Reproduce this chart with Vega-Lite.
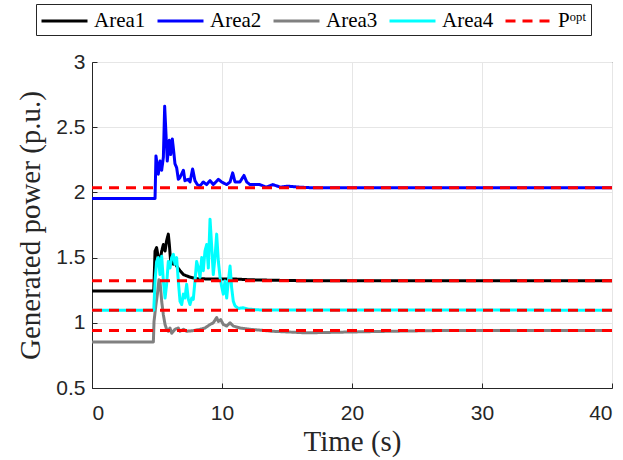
{
  "$schema": "https://vega.github.io/schema/vega-lite/v6.json",
  "width": 520,
  "height": 326,
  "autosize": "none",
  "padding": {"left": 92, "top": 62, "right": 11, "bottom": 72},
  "background": "white",
  "config": {
    "view": {"stroke": "#262626", "strokeWidth": 1},
    "axis": {
      "domainColor": "#262626",
      "tickColor": "#262626",
      "gridColor": "#e6e6e6",
      "labelFont": "Liberation Sans",
      "labelFontSize": 21,
      "labelColor": "#262626",
      "titleFont": "Liberation Serif",
      "titleFontSize": 29,
      "titleFontWeight": "normal",
      "titleColor": "#262626",
      "tickSize": -5,
      "labelPadding": 14
    },
    "legend": {
      "orient": "none",
      "legendX": -56,
      "legendY": -58,
      "direction": "horizontal",
      "strokeColor": "#262626",
      "fillColor": "white",
      "padding": 4,
      "labelFont": "Liberation Serif",
      "labelFontSize": 21,
      "labelColor": "black",
      "symbolType": "M-1,0H3",
      "symbolSize": 529,
      "symbolStrokeWidth": 3,
      "columnPadding": 5,
      "labelOffset": 28
    }
  },
  "datasets": {
    "areas": [
      {"series": "Area1", "t": 0, "v": 1.243},
      {"series": "Area1", "t": 4.75, "v": 1.243},
      {"series": "Area1", "t": 4.85, "v": 1.55},
      {"series": "Area1", "t": 4.97, "v": 1.577},
      {"series": "Area1", "t": 5.10, "v": 1.50},
      {"series": "Area1", "t": 5.23, "v": 1.47},
      {"series": "Area1", "t": 5.36, "v": 1.55},
      {"series": "Area1", "t": 5.49, "v": 1.60},
      {"series": "Area1", "t": 5.62, "v": 1.55},
      {"series": "Area1", "t": 5.74, "v": 1.63},
      {"series": "Area1", "t": 5.87, "v": 1.68},
      {"series": "Area1", "t": 5.95, "v": 1.60},
      {"series": "Area1", "t": 6.05, "v": 1.47},
      {"series": "Area1", "t": 6.15, "v": 1.50},
      {"series": "Area1", "t": 6.26, "v": 1.45},
      {"series": "Area1", "t": 6.40, "v": 1.46},
      {"series": "Area1", "t": 6.51, "v": 1.435},
      {"series": "Area1", "t": 6.77, "v": 1.40},
      {"series": "Area1", "t": 7.03, "v": 1.37},
      {"series": "Area1", "t": 7.28, "v": 1.36},
      {"series": "Area1", "t": 7.54, "v": 1.35},
      {"series": "Area1", "t": 8.05, "v": 1.338},
      {"series": "Area1", "t": 9.6, "v": 1.335},
      {"series": "Area1", "t": 11.1, "v": 1.335},
      {"series": "Area1", "t": 12.15, "v": 1.33},
      {"series": "Area1", "t": 14, "v": 1.326},
      {"series": "Area1", "t": 16, "v": 1.323},
      {"series": "Area1", "t": 40, "v": 1.323},

      {"series": "Area2", "t": 0, "v": 1.954},
      {"series": "Area2", "t": 4.85, "v": 1.954},
      {"series": "Area2", "t": 4.92, "v": 2.28},
      {"series": "Area2", "t": 5.10, "v": 2.14},
      {"series": "Area2", "t": 5.23, "v": 2.24},
      {"series": "Area2", "t": 5.36, "v": 2.17},
      {"series": "Area2", "t": 5.49, "v": 2.27},
      {"series": "Area2", "t": 5.59, "v": 2.66},
      {"series": "Area2", "t": 5.69, "v": 2.45},
      {"series": "Area2", "t": 5.79, "v": 2.24},
      {"series": "Area2", "t": 5.95, "v": 2.40},
      {"series": "Area2", "t": 6.05, "v": 2.29},
      {"series": "Area2", "t": 6.18, "v": 2.41},
      {"series": "Area2", "t": 6.31, "v": 2.29},
      {"series": "Area2", "t": 6.38, "v": 2.22},
      {"series": "Area2", "t": 6.51, "v": 2.19},
      {"series": "Area2", "t": 6.64, "v": 2.10},
      {"series": "Area2", "t": 6.77, "v": 2.115},
      {"series": "Area2", "t": 7.03, "v": 2.17},
      {"series": "Area2", "t": 7.15, "v": 2.09},
      {"series": "Area2", "t": 7.41, "v": 2.10},
      {"series": "Area2", "t": 7.54, "v": 2.08},
      {"series": "Area2", "t": 7.74, "v": 2.18},
      {"series": "Area2", "t": 7.92, "v": 2.09},
      {"series": "Area2", "t": 8.10, "v": 2.06},
      {"series": "Area2", "t": 8.31, "v": 2.05},
      {"series": "Area2", "t": 8.56, "v": 2.08},
      {"series": "Area2", "t": 8.82, "v": 2.06},
      {"series": "Area2", "t": 9.08, "v": 2.09},
      {"series": "Area2", "t": 9.33, "v": 2.06},
      {"series": "Area2", "t": 9.72, "v": 2.10},
      {"series": "Area2", "t": 9.97, "v": 2.08},
      {"series": "Area2", "t": 10.36, "v": 2.06},
      {"series": "Area2", "t": 10.62, "v": 2.08},
      {"series": "Area2", "t": 10.82, "v": 2.15},
      {"series": "Area2", "t": 11.0, "v": 2.08},
      {"series": "Area2", "t": 11.38, "v": 2.08},
      {"series": "Area2", "t": 11.69, "v": 2.13},
      {"series": "Area2", "t": 11.9, "v": 2.08},
      {"series": "Area2", "t": 12.15, "v": 2.06},
      {"series": "Area2", "t": 12.9, "v": 2.06},
      {"series": "Area2", "t": 13.4, "v": 2.04},
      {"series": "Area2", "t": 13.9, "v": 2.06},
      {"series": "Area2", "t": 14.5, "v": 2.04},
      {"series": "Area2", "t": 15.0, "v": 2.048},
      {"series": "Area2", "t": 16.0, "v": 2.04},
      {"series": "Area2", "t": 17.0, "v": 2.035},
      {"series": "Area2", "t": 40, "v": 2.035},

      {"series": "Area3", "t": 0, "v": 0.853},
      {"series": "Area3", "t": 4.72, "v": 0.853},
      {"series": "Area3", "t": 4.77, "v": 1.01},
      {"series": "Area3", "t": 4.92, "v": 1.14},
      {"series": "Area3", "t": 5.03, "v": 1.22},
      {"series": "Area3", "t": 5.15, "v": 1.33},
      {"series": "Area3", "t": 5.23, "v": 1.32},
      {"series": "Area3", "t": 5.36, "v": 1.165},
      {"series": "Area3", "t": 5.49, "v": 1.06},
      {"series": "Area3", "t": 5.62, "v": 0.987},
      {"series": "Area3", "t": 5.74, "v": 0.95},
      {"series": "Area3", "t": 5.87, "v": 0.935},
      {"series": "Area3", "t": 6.0, "v": 0.96},
      {"series": "Area3", "t": 6.13, "v": 0.92},
      {"series": "Area3", "t": 6.38, "v": 0.95},
      {"series": "Area3", "t": 6.64, "v": 0.96},
      {"series": "Area3", "t": 6.77, "v": 0.935},
      {"series": "Area3", "t": 7.03, "v": 0.95},
      {"series": "Area3", "t": 7.28, "v": 0.935},
      {"series": "Area3", "t": 7.79, "v": 0.94},
      {"series": "Area3", "t": 8.31, "v": 0.95},
      {"series": "Area3", "t": 8.69, "v": 0.96},
      {"series": "Area3", "t": 9.08, "v": 0.987},
      {"series": "Area3", "t": 9.33, "v": 1.0},
      {"series": "Area3", "t": 9.59, "v": 1.04},
      {"series": "Area3", "t": 9.72, "v": 1.01},
      {"series": "Area3", "t": 9.9, "v": 1.025},
      {"series": "Area3", "t": 10.1, "v": 0.987},
      {"series": "Area3", "t": 10.36, "v": 0.975},
      {"series": "Area3", "t": 10.62, "v": 1.0},
      {"series": "Area3", "t": 10.87, "v": 0.975},
      {"series": "Area3", "t": 11.38, "v": 0.96},
      {"series": "Area3", "t": 12.15, "v": 0.95},
      {"series": "Area3", "t": 13.9, "v": 0.935},
      {"series": "Area3", "t": 16.5, "v": 0.923},
      {"series": "Area3", "t": 19.1, "v": 0.928},
      {"series": "Area3", "t": 22.9, "v": 0.935},
      {"series": "Area3", "t": 27, "v": 0.941},
      {"series": "Area3", "t": 40, "v": 0.941},

      {"series": "Area4", "t": 0, "v": 1.097},
      {"series": "Area4", "t": 4.75, "v": 1.097},
      {"series": "Area4", "t": 4.85, "v": 1.32},
      {"series": "Area4", "t": 4.97, "v": 1.47},
      {"series": "Area4", "t": 5.10, "v": 1.50},
      {"series": "Area4", "t": 5.23, "v": 1.37},
      {"series": "Area4", "t": 5.36, "v": 1.51},
      {"series": "Area4", "t": 5.49, "v": 1.32},
      {"series": "Area4", "t": 5.62, "v": 1.19},
      {"series": "Area4", "t": 5.74, "v": 1.295},
      {"series": "Area4", "t": 5.87, "v": 1.47},
      {"series": "Area4", "t": 6.0, "v": 1.42},
      {"series": "Area4", "t": 6.13, "v": 1.50},
      {"series": "Area4", "t": 6.26, "v": 1.525},
      {"series": "Area4", "t": 6.38, "v": 1.45},
      {"series": "Area4", "t": 6.51, "v": 1.50},
      {"series": "Area4", "t": 6.64, "v": 1.32},
      {"series": "Area4", "t": 6.77, "v": 1.165},
      {"series": "Area4", "t": 6.90, "v": 1.14},
      {"series": "Area4", "t": 7.03, "v": 1.22},
      {"series": "Area4", "t": 7.15, "v": 1.19},
      {"series": "Area4", "t": 7.28, "v": 1.295},
      {"series": "Area4", "t": 7.41, "v": 1.18},
      {"series": "Area4", "t": 7.54, "v": 1.14},
      {"series": "Area4", "t": 7.67, "v": 1.19},
      {"series": "Area4", "t": 7.79, "v": 1.18},
      {"series": "Area4", "t": 7.92, "v": 1.32},
      {"series": "Area4", "t": 8.05, "v": 1.47},
      {"series": "Area4", "t": 8.18, "v": 1.42},
      {"series": "Area4", "t": 8.31, "v": 1.35},
      {"series": "Area4", "t": 8.44, "v": 1.50},
      {"series": "Area4", "t": 8.56, "v": 1.40},
      {"series": "Area4", "t": 8.69, "v": 1.55},
      {"series": "Area4", "t": 8.82, "v": 1.60},
      {"series": "Area4", "t": 8.95, "v": 1.42},
      {"series": "Area4", "t": 9.08, "v": 1.795},
      {"series": "Area4", "t": 9.21, "v": 1.58},
      {"series": "Area4", "t": 9.33, "v": 1.37},
      {"series": "Area4", "t": 9.46, "v": 1.50},
      {"series": "Area4", "t": 9.59, "v": 1.68},
      {"series": "Area4", "t": 9.72, "v": 1.47},
      {"series": "Area4", "t": 9.85, "v": 1.35},
      {"series": "Area4", "t": 9.97, "v": 1.28},
      {"series": "Area4", "t": 10.1, "v": 1.22},
      {"series": "Area4", "t": 10.23, "v": 1.32},
      {"series": "Area4", "t": 10.36, "v": 1.19},
      {"series": "Area4", "t": 10.49, "v": 1.32},
      {"series": "Area4", "t": 10.62, "v": 1.435},
      {"series": "Area4", "t": 10.74, "v": 1.27},
      {"series": "Area4", "t": 10.87, "v": 1.165},
      {"series": "Area4", "t": 11.0, "v": 1.13},
      {"series": "Area4", "t": 11.26, "v": 1.11},
      {"series": "Area4", "t": 11.6, "v": 1.115},
      {"series": "Area4", "t": 12.0, "v": 1.105},
      {"series": "Area4", "t": 13.0, "v": 1.098},
      {"series": "Area4", "t": 40, "v": 1.097}
    ],
    "popt": [
      {"series": "Pᵒᵖᵗ", "line": "P1", "t": 0, "v": 1.323},
      {"series": "Pᵒᵖᵗ", "line": "P1", "t": 40, "v": 1.323},
      {"series": "Pᵒᵖᵗ", "line": "P2", "t": 0, "v": 2.035},
      {"series": "Pᵒᵖᵗ", "line": "P2", "t": 40, "v": 2.035},
      {"series": "Pᵒᵖᵗ", "line": "P3", "t": 0, "v": 0.941},
      {"series": "Pᵒᵖᵗ", "line": "P3", "t": 40, "v": 0.941},
      {"series": "Pᵒᵖᵗ", "line": "P4", "t": 0, "v": 1.097},
      {"series": "Pᵒᵖᵗ", "line": "P4", "t": 40, "v": 1.097}
    ]
  },
  "encoding": {
    "x": {
      "field": "t",
      "type": "quantitative",
      "scale": {"domain": [0, 40], "nice": false},
      "axis": {"title": "Time (s)", "values": [0, 10, 20, 30, 40], "grid": true, "labelPadding": 19, "titlePadding": 4}
    },
    "y": {
      "field": "v",
      "type": "quantitative",
      "scale": {"domain": [0.5, 3], "nice": false, "zero": false},
      "axis": {"title": "Generated power (p.u.)", "values": [0.5, 1, 1.5, 2, 2.5, 3], "format": "~g", "grid": true, "labelPadding": 12, "titlePadding": 10}
    },
    "color": {
      "field": "series",
      "type": "nominal",
      "scale": {
        "domain": ["Area1", "Area2", "Area3", "Area4", "Pᵒᵖᵗ"],
        "range": ["#000000", "#0000ff", "#808080", "#00ffff", "#ff0000"]
      },
      "legend": {"title": null}
    },
    "strokeDash": {
      "field": "series",
      "type": "nominal",
      "scale": {
        "domain": ["Area1", "Area2", "Area3", "Area4", "Pᵒᵖᵗ"],
        "range": [[1, 0], [1, 0], [1, 0], [1, 0], [10, 7]]
      },
      "legend": {"title": null}
    }
  },
  "layer": [
    {
      "data": {"name": "areas"},
      "mark": {"type": "line", "strokeWidth": 3, "strokeJoin": "round"}
    },
    {
      "data": {"name": "popt"},
      "mark": {"type": "line", "strokeWidth": 3},
      "encoding": {"detail": {"field": "line", "type": "nominal"}}
    }
  ]
}
